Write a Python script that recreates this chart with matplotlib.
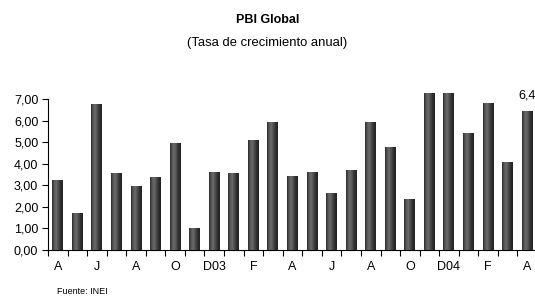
import numpy as np
import matplotlib.pyplot as plt
from matplotlib.colors import LinearSegmentedColormap

plt.rcParams['font.family'] = ['Liberation Sans', 'DejaVu Sans']

# Tasa de crecimiento anual del PBI, abr-2003 a abr-2005
meses = ['A', '', 'J', '', 'A', '', 'O', '', 'D03', '', 'F', '', 'A', '',
         'J', '', 'A', '', 'O', '', 'D04', '', 'F', '', 'A']
valores = [3.2, 1.7, 6.75, 3.55, 2.95, 3.37, 4.95, 1.0, 3.58, 3.55, 5.07,
           5.9, 3.43, 3.58, 2.6, 3.7, 5.9, 4.73, 2.32, 7.26, 7.26, 5.42,
           6.77, 4.05, 6.44]
y_ticks = [0, 1, 2, 3, 4, 5, 6, 7]

fig = plt.figure(figsize=(5.35, 2.97), dpi=100)
ax = fig.add_axes([0.0897, 0.1582, 0.914, 0.5084])

x = np.arange(len(valores))
w = 0.56
cmap = LinearSegmentedColormap.from_list(
    'cil', ['#2a2a2a', '#5a5a5a', '#6a6a6a', '#4a4a4a', '#2e2e2e', '#222222'])
grad = np.linspace(0, 1, 64).reshape(1, -1)

bars = ax.bar(x, valores, width=w, color='#3a3a3a', clip_on=False, zorder=2)
for b in bars:
    im = ax.imshow(grad, cmap=cmap, aspect='auto', zorder=3,
                   extent=(b.get_x(), b.get_x() + b.get_width(), 0, b.get_height()))
    im.set_clip_on(False)

ax.set_xlim(-0.5, len(valores) - 0.5)
ax.set_ylim(0, 7)
ax.set_yticks(y_ticks)
ax.set_yticklabels([f'{v:.2f}'.replace('.', ',') for v in y_ticks], fontsize=9)
ax.set_xticks(x)
ax.set_xticklabels(meses, fontsize=9)
ax.set_xticks(np.arange(len(valores) + 1) - 0.5, minor=True)
ax.tick_params(axis='x', which='major', length=0, pad=8)
ax.tick_params(axis='x', which='minor', length=4, width=0.8, direction='out')
ax.tick_params(axis='y', length=4, width=0.8, pad=3)

for s in ['top', 'right']:
    ax.spines[s].set_visible(False)
ax.spines['left'].set_linewidth(0.8)
ax.spines['bottom'].set_linewidth(0.8)

ax.annotate(f'{valores[-1]:.1f}'.replace('.', ','), (x[-1], valores[-1]),
            xytext=(0, 11.5), textcoords='offset points', ha='center',
            va='center', fontsize=9, annotation_clip=False)

fig.text(0.5, 0.933, 'PBI Global', ha='center', va='center',
         fontsize=9, fontweight='bold')
fig.text(0.5, 0.855, '(Tasa de crecimiento anual)', ha='center', va='center',
         fontsize=9.4)
fig.text(0.107, 0.02, 'Fuente: INEI', ha='left', va='center', fontsize=6.5)

fig.savefig('out.png', dpi=100)
